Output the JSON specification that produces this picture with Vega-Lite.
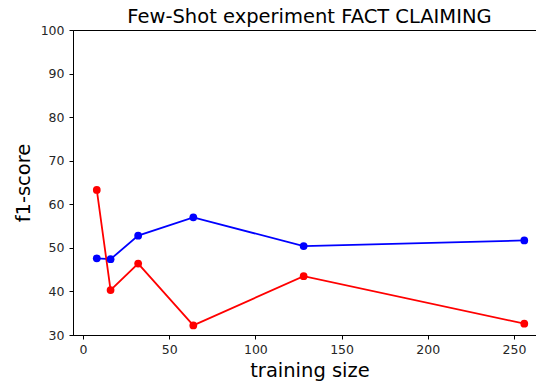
{
  "$schema": "https://vega.github.io/schema/vega-lite/v6.json",
  "width": 473,
  "height": 305,
  "autosize": {"type": "none"},
  "padding": {"left": 73, "top": 30, "right": 0, "bottom": 52},
  "background": "white",
  "title": {
    "text": "Few-Shot experiment FACT CLAIMING",
    "font": "DejaVu Sans",
    "fontSize": 19.5,
    "fontWeight": "normal",
    "color": "#000000",
    "anchor": "middle",
    "offset": 5,
    "dy": 8
  },
  "config": {
    "view": {"stroke": "#000000", "strokeWidth": 1},
    "axis": {
      "grid": false,
      "domainColor": "#000000",
      "tickColor": "#000000",
      "tickSize": 4,
      "labelFont": "DejaVu Sans",
      "labelFontSize": 12.5,
      "labelColor": "#262626",
      "titleFont": "DejaVu Sans",
      "titleFontSize": 19.5,
      "titleFontWeight": "normal",
      "titleColor": "#000000"
    }
  },
  "data": {
    "values": [
      {"size": 8, "score": 47.6, "series": "blue"},
      {"size": 16, "score": 47.4, "series": "blue"},
      {"size": 32, "score": 52.8, "series": "blue"},
      {"size": 64, "score": 57.0, "series": "blue"},
      {"size": 128, "score": 50.4, "series": "blue"},
      {"size": 256, "score": 51.7, "series": "blue"},
      {"size": 8, "score": 63.3, "series": "red"},
      {"size": 16, "score": 40.3, "series": "red"},
      {"size": 32, "score": 46.4, "series": "red"},
      {"size": 64, "score": 32.2, "series": "red"},
      {"size": 128, "score": 43.5, "series": "red"},
      {"size": 256, "score": 32.6, "series": "red"}
    ]
  },
  "mark": {"type": "line", "strokeWidth": 1.8, "point": {"filled": true, "size": 60, "opacity": 1}},
  "encoding": {
    "x": {
      "field": "size",
      "type": "quantitative",
      "scale": {"domain": [-5.8, 268.6], "nice": false, "zero": false},
      "axis": {"values": [0, 50, 100, 150, 200, 250], "title": "training size", "titlePadding": 6, "labelPadding": 4}
    },
    "y": {
      "field": "score",
      "type": "quantitative",
      "scale": {"domain": [30, 100], "nice": false, "zero": false},
      "axis": {"values": [30, 40, 50, 60, 70, 80, 90, 100], "title": "f1-score", "titlePadding": 7, "labelPadding": 5}
    },
    "color": {
      "field": "series",
      "type": "nominal",
      "scale": {"domain": ["blue", "red"], "range": ["#0000ff", "#ff0000"]},
      "legend": null
    },
    "order": {"field": "size", "type": "quantitative"}
  }
}
